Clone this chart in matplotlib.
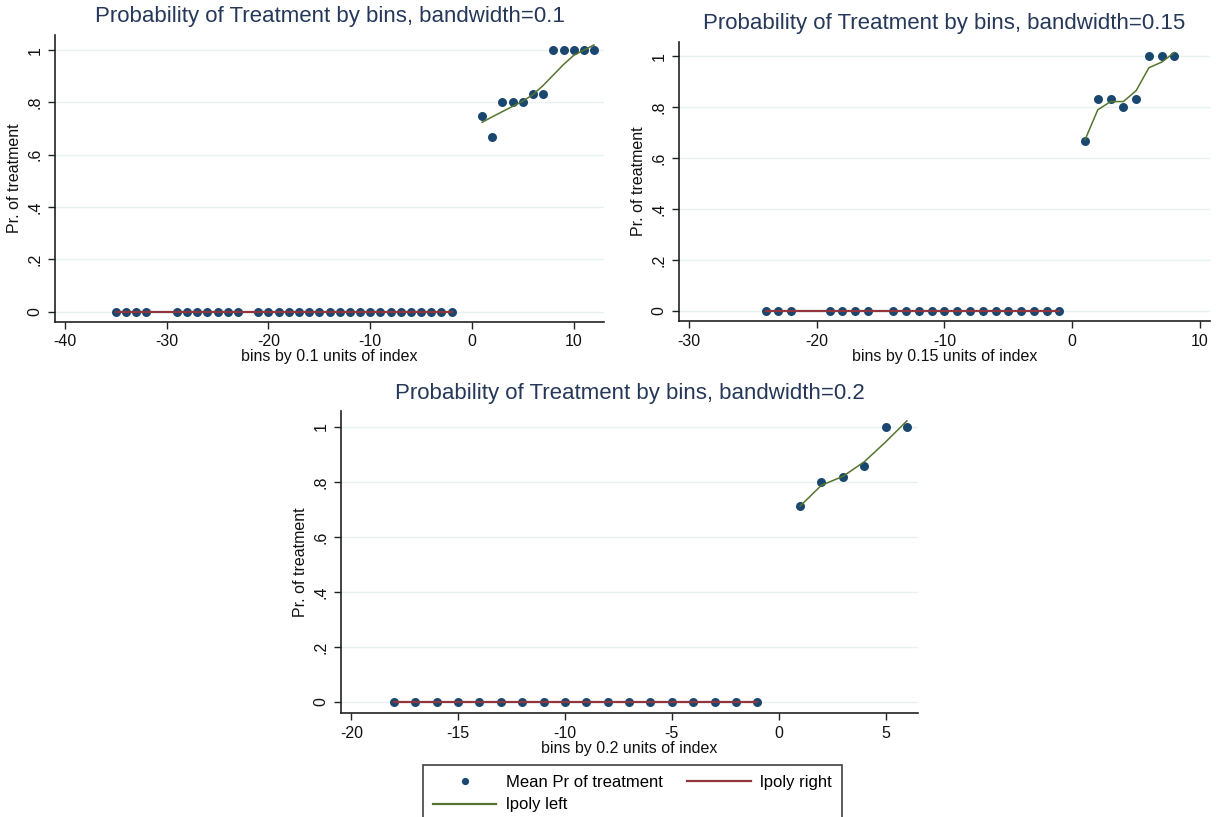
import matplotlib
matplotlib.use("Agg")
import matplotlib.pyplot as plt
from matplotlib.lines import Line2D

plt.rcParams['font.family'] = ['Liberation Sans', 'DejaVu Sans']

# ---------------- data ----------------
# bandwidth = 0.1
bw1_left_x = [-35, -34, -33, -32, -29, -28, -27, -26, -25, -24, -23,
              -21, -20, -19, -18, -17, -16, -15, -14, -13, -12, -11,
              -10, -9, -8, -7, -6, -5, -4, -3, -2]
bw1_left_y = [0, 0, 0, 0, 0, 0, 0, 0, 0, 0, 0,
              0, 0, 0, 0, 0, 0, 0, 0, 0, 0, 0,
              0, 0, 0, 0, 0, 0, 0, 0, 0]
bw1_right_x = [1, 2, 3, 4, 5, 6, 7, 8, 9, 10, 11, 12]
bw1_right_y = [0.75, 0.667, 0.8, 0.8, 0.8, 0.833, 0.833, 1, 1, 1, 1, 1]
bw1_lpoly_right_x = [-35, -2]
bw1_lpoly_right_y = [0, 0]
bw1_lpoly_left_x = [1, 2, 3, 4, 5, 6, 7, 8, 9, 10, 11, 12]
bw1_lpoly_left_y = [0.724, 0.745, 0.765, 0.785, 0.805, 0.83, 0.865, 0.905,
                    0.945, 0.98, 1.0, 1.02]

# bandwidth = 0.15
bw2_left_x = [-24, -23, -22, -19, -18, -17, -16, -14, -13, -12, -11, -10,
              -9, -8, -7, -6, -5, -4, -3, -2, -1]
bw2_left_y = [0, 0, 0, 0, 0, 0, 0, 0, 0, 0, 0, 0,
              0, 0, 0, 0, 0, 0, 0, 0, 0]
bw2_right_x = [1, 2, 3, 4, 5, 6, 7, 8]
bw2_right_y = [0.667, 0.833, 0.833, 0.8, 0.833, 1, 1, 1]
bw2_lpoly_right_x = [-24, -1]
bw2_lpoly_right_y = [0, 0]
bw2_lpoly_left_x = [1, 2, 3, 4, 5, 6, 7, 8]
bw2_lpoly_left_y = [0.672, 0.79, 0.822, 0.822, 0.865, 0.955, 0.977, 1.015]

# bandwidth = 0.2
bw3_left_x = [-18, -17, -16, -15, -14, -13, -12, -11, -10, -9,
              -8, -7, -6, -5, -4, -3, -2, -1]
bw3_left_y = [0, 0, 0, 0, 0, 0, 0, 0, 0, 0,
              0, 0, 0, 0, 0, 0, 0, 0]
bw3_right_x = [1, 2, 3, 4, 5, 6]
bw3_right_y = [0.714, 0.8, 0.818, 0.857, 1, 1]
bw3_lpoly_right_x = [-18, -1]
bw3_lpoly_right_y = [0, 0]
bw3_lpoly_left_x = [1, 2, 3, 4, 5, 6]
bw3_lpoly_left_y = [0.712, 0.788, 0.82, 0.873, 0.945, 1.022]

titles = ["Probability of Treatment by bins, bandwidth=0.1",
          "Probability of Treatment by bins, bandwidth=0.15",
          "Probability of Treatment by bins, bandwidth=0.2"]
xlabels = ["bins by 0.1 units of index",
           "bins by 0.15 units of index",
           "bins by 0.2 units of index"]
ylabel = "Pr. of treatment"
xticks_list = [[-40, -30, -20, -10, 0, 10],
               [-30, -20, -10, 0, 10],
               [-20, -15, -10, -5, 0, 5]]
yticks = [0, 0.2, 0.4, 0.6, 0.8, 1.0]
ytick_labels = ["0", ".2", ".4", ".6", ".8", "1"]
legend_labels = ["Mean Pr of treatment", "lpoly left", "lpoly right"]

# ---------------- style ----------------
NAVY = "#1a476f"
RED = "#90353b"
GREEN = "#55752f"
GRID = "#e8f0f2"
TITLE_C = "#25385a"

W, H = 1216, 817
fig = plt.figure(figsize=(W / 100, H / 100), dpi=100)
fig.patch.set_facecolor("white")


def px_axes(left, right, top, bottom):
    return fig.add_axes([left / W, (H - bottom) / H, (right - left) / W,
                         (bottom - top) / H])


ax1 = px_axes(55, 604, 35, 322)
ax2 = px_axes(679, 1210, 41.5, 321)
ax3 = px_axes(341, 918, 411, 713)

panels = [
    (ax1, bw1_left_x, bw1_left_y, bw1_right_x, bw1_right_y,
     bw1_lpoly_right_x, bw1_lpoly_right_y, bw1_lpoly_left_x, bw1_lpoly_left_y,
     (-40.98, 12.98)),
    (ax2, bw2_left_x, bw2_left_y, bw2_right_x, bw2_right_y,
     bw2_lpoly_right_x, bw2_lpoly_right_y, bw2_lpoly_left_x, bw2_lpoly_left_y,
     (-30.78, 10.78)),
    (ax3, bw3_left_x, bw3_left_y, bw3_right_x, bw3_right_y,
     bw3_lpoly_right_x, bw3_lpoly_right_y, bw3_lpoly_left_x, bw3_lpoly_left_y,
     (-20.48, 6.52)),
]

for i, (ax, lx, ly, rx, ry, lrx, lry, llx, lly, xl) in enumerate(panels):
    ax.scatter(lx + rx, ly + ry, s=42, color=NAVY, marker="o",
               linewidths=0, zorder=3)
    ax.plot(lrx, lry, color=RED, lw=1.6, zorder=4)
    ax.plot(llx, lly, color=GREEN, lw=1.1, zorder=4)

    ax.set_xlim(*xl)
    ax.set_ylim(-0.04, 1.058)
    ax.set_xticks(xticks_list[i])
    ax.set_xticklabels([str(t) for t in xticks_list[i]])
    ax.set_yticks(yticks)
    ax.set_yticklabels(ytick_labels, rotation=90, va="center")
    ax.grid(axis="y", color=GRID, lw=1.0, zorder=0)
    ax.set_axisbelow(True)

    for s in ["top", "right"]:
        ax.spines[s].set_visible(False)
    for s in ["left", "bottom"]:
        ax.spines[s].set_color("#222222")
        ax.spines[s].set_linewidth(1.2)
    ax.tick_params(axis="both", direction="out", length=5, width=1,
                   color="#222222", labelsize=11.5, labelcolor="#111111")
    ax.tick_params(axis="x", pad=4)
    ax.tick_params(axis="y", pad=4)

    ax.set_title(titles[i], fontsize=16, color=TITLE_C, pad=9)
    ax.set_xlabel(xlabels[i], fontsize=11.5, color="#111111", labelpad=0)
    ax.set_ylabel(ylabel, fontsize=11.5, color="#111111", labelpad=4)

handles = [
    Line2D([], [], ls="none", marker="o", markersize=5.2, color=NAVY,
           markeredgewidth=0),
    Line2D([], [], color=GREEN, lw=1.6),
    Line2D([], [], color=RED, lw=1.6),
]
leg = fig.legend(handles, legend_labels, ncol=2, loc="upper left",
                 bbox_to_anchor=(423 / W, 1 - 765 / H),
                 frameon=True, fancybox=False, fontsize=12,
                 handlelength=3.8, handletextpad=0.55, columnspacing=1.5,
                 borderpad=0.6, labelspacing=0.45, borderaxespad=0)
leg.get_frame().set_edgecolor("#111111")
leg.get_frame().set_linewidth(1.2)

fig.savefig("out.png", dpi=100, facecolor="white")
